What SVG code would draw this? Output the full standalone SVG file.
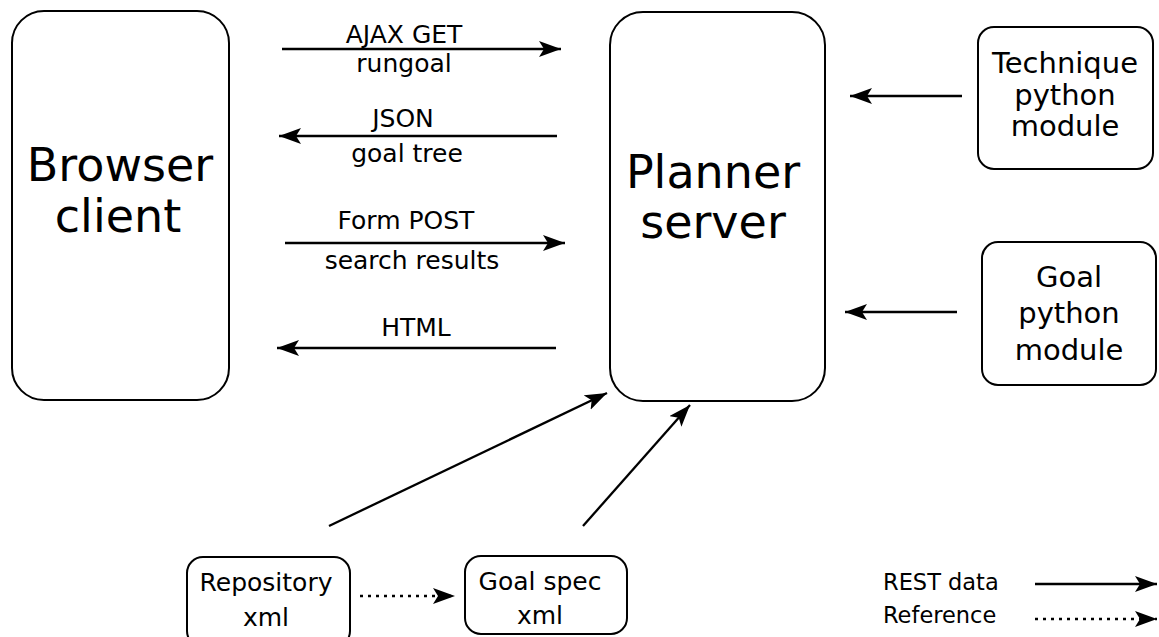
<svg xmlns="http://www.w3.org/2000/svg" width="1159" height="637" viewBox="0 0 1159 637">
<style>
.box{fill:#fff;stroke:#000;stroke-width:2}
.t{font-family:"DejaVu Sans","Liberation Sans",sans-serif;fill:#000;text-anchor:middle}
.big{font-size:46px}
.mod{font-size:29px}
.lbl{font-size:25px}
.bot{font-size:25px}
.leg{font-size:22.5px;text-anchor:start}
.c{fill:none;stroke:#000;stroke-width:2.3}
.d{stroke-dasharray:3 5}
</style>
<defs>
<marker id="ah" markerUnits="userSpaceOnUse" markerWidth="24" markerHeight="18" refX="22" refY="8" orient="auto">
<path d="M22,8 L0,0 L5,8 L0,16 Z" fill="#000"/>
</marker>
</defs>
<g id="browser">
<rect class="box" x="12" y="11" width="217" height="389" rx="32"/>
<text class="t big" x="120" y="181">Browser</text>
<text class="t big" x="118" y="232">client</text>
</g>
<g id="planner">
<rect class="box" x="610" y="12" width="215" height="389" rx="33"/>
<text class="t big" x="713" y="188">Planner</text>
<text class="t big" x="713" y="238">server</text>
</g>
<g id="technique">
<rect class="box" x="978" y="27" width="175" height="142" rx="16"/>
<text class="t mod" x="1065" y="73">Technique</text>
<text class="t mod" x="1065" y="105">python</text>
<text class="t mod" x="1065" y="136">module</text>
</g>
<g id="goal">
<rect class="box" x="982" y="242" width="174" height="143" rx="16"/>
<text class="t mod" x="1069" y="287">Goal</text>
<text class="t mod" x="1069" y="323">python</text>
<text class="t mod" x="1069" y="360">module</text>
</g>
<g id="repository">
<rect class="box" x="187" y="557" width="163" height="90" rx="16"/>
<text class="t bot" x="266" y="591">Repository</text>
<text class="t bot" x="266" y="626">xml</text>
</g>
<g id="goalspec">
<rect class="box" x="465" y="556" width="162" height="78" rx="16"/>
<text class="t bot" x="540" y="590">Goal spec</text>
<text class="t bot" x="540" y="624">xml</text>
</g>
<g id="connectors">
<line class="c" x1="282" y1="49" x2="561" y2="49" marker-end="url(#ah)"/>
<text class="t lbl" x="404" y="43">AJAX GET</text>
<text class="t lbl" x="404" y="72">rungoal</text>
<line class="c" x1="557" y1="136" x2="279" y2="136" marker-end="url(#ah)"/>
<text class="t lbl" x="403" y="127">JSON</text>
<text class="t lbl" x="407" y="162">goal tree</text>
<line class="c" x1="285" y1="243" x2="565" y2="243" marker-end="url(#ah)"/>
<text class="t lbl" x="406" y="229">Form POST</text>
<text class="t lbl" x="412" y="269">search results</text>
<line class="c" x1="556" y1="348" x2="277" y2="348" marker-end="url(#ah)"/>
<text class="t lbl" x="416" y="336">HTML</text>
<line class="c" x1="962" y1="96" x2="850" y2="96" marker-end="url(#ah)"/>
<line class="c" x1="957" y1="312" x2="845" y2="312" marker-end="url(#ah)"/>
<line class="c" x1="329" y1="526" x2="607" y2="393" marker-end="url(#ah)"/>
<line class="c" x1="583" y1="526" x2="690" y2="405" marker-end="url(#ah)"/>
<line class="c d" x1="360" y1="596" x2="455" y2="596" marker-end="url(#ah)"/>
</g>
<g id="legend">
<text class="t leg" x="883" y="590">REST data</text>
<text class="t leg" x="883" y="623">Reference</text>
<line class="c" x1="1035" y1="584" x2="1157" y2="584" marker-end="url(#ah)"/>
<line class="c d" x1="1035" y1="619" x2="1157" y2="619" marker-end="url(#ah)"/>
</g>
</svg>
